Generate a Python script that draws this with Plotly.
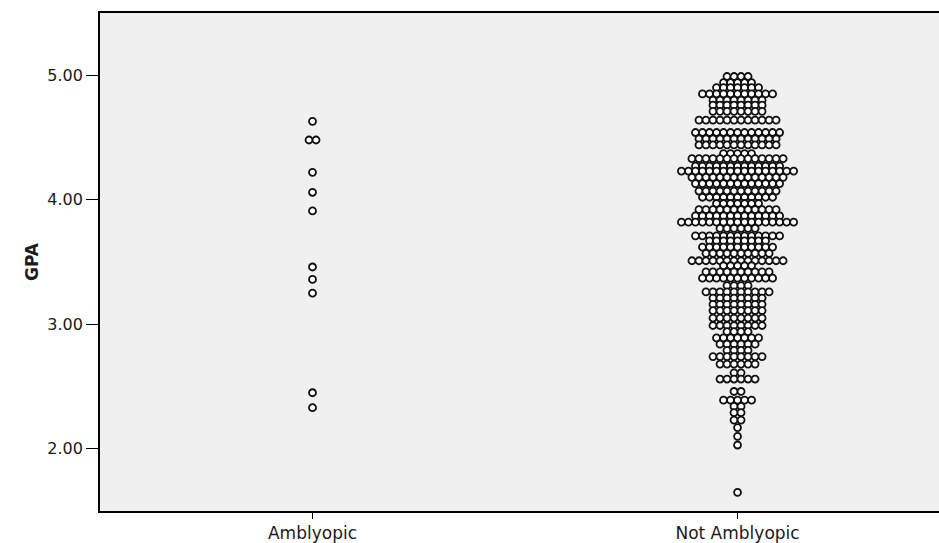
import plotly.graph_objects as go

# ---------------- data ----------------
categories = ["Amblyopic", "Not Amblyopic"]

amblyopic_gpa = [4.63, 4.48, 4.48, 4.22, 4.06, 3.91, 3.46, 3.36, 3.25, 2.45, 2.33]

not_amblyopic_levels = [
    4.99, 4.94, 4.90, 4.85, 4.80, 4.76, 4.71, 4.64, 4.54, 4.49, 4.44, 4.37,
    4.33, 4.27, 4.23, 4.18, 4.13, 4.07, 4.02, 3.97, 3.92, 3.87, 3.82, 3.77,
    3.71, 3.67, 3.62, 3.57, 3.51, 3.47, 3.42, 3.37, 3.31, 3.26, 3.21, 3.16,
    3.11, 3.05, 2.99, 2.94, 2.89, 2.84, 2.79, 2.74, 2.68, 2.61, 2.56, 2.46,
    2.39, 2.34, 2.29, 2.23, 2.17, 2.10, 2.03, 1.65,
]
not_amblyopic_counts = [
    4, 5, 7, 11, 8, 8, 8, 12, 13, 12, 12, 5,
    14, 13, 17, 14, 13, 12, 11, 7, 12, 13, 17, 6,
    13, 9, 11, 10, 14, 5, 10, 11, 4, 10, 8, 8,
    8, 8, 8, 4, 7, 6, 4, 8, 6, 2, 6, 2,
    5, 2, 2, 2, 1, 1, 1, 1,
]

y_ticks = [2, 3, 4, 5]

# ---------------- layout helpers ----------------
DOT_STEP = 0.0165  # horizontal spacing between stacked dots (x units)

not_amblyopic_gpa = [v for v, c in zip(not_amblyopic_levels, not_amblyopic_counts) for _ in range(c)]


def stack(values, center):
    groups = {}
    for v in values:
        groups.setdefault(v, 0)
        groups[v] += 1
    xs, ys = [], []
    for v, n in groups.items():
        for i in range(n):
            xs.append(center + (i - (n - 1) / 2) * DOT_STEP)
            ys.append(v)
    return xs, ys


x0, y0 = stack(amblyopic_gpa, 0)
x1, y1 = stack(not_amblyopic_gpa, 1)

marker = dict(symbol="circle", size=7, color="white",
              line=dict(color="#111111", width=1.8))

fig = go.Figure()
fig.add_trace(go.Scatter(x=x0, y=y0, mode="markers", marker=marker,
                         name=categories[0], showlegend=False, hoverinfo="y"))
fig.add_trace(go.Scatter(x=x1, y=y1, mode="markers", marker=marker,
                         name=categories[1], showlegend=False, hoverinfo="y"))

font_family = "DejaVu Sans, Arial, sans-serif"

fig.update_layout(
    width=939, height=543,
    margin=dict(l=100, r=0, t=13, b=30),
    paper_bgcolor="white",
    plot_bgcolor="#F0F0F0",
    font=dict(family=font_family, size=16, color="#1a1a1a"),
    showlegend=False,
)

fig.update_xaxes(
    range=[-0.5, 1.474],
    tickmode="array", tickvals=[0, 1], ticktext=categories,
    showgrid=False, zeroline=False,
    showline=True, linecolor="black", linewidth=1.8, mirror=True,
    ticks="outside", ticklen=6, tickcolor="black", tickwidth=1.2,
    tickfont=dict(family=font_family, size=17, color="#1a1a1a"),
)

fig.update_yaxes(
    range=[1.5, 5.5],
    tickmode="array", tickvals=y_ticks, tickformat=".2f",
    showgrid=False, zeroline=False,
    showline=True, linecolor="black", linewidth=1.8, mirror=False,
    ticks="outside", ticklen=12, tickcolor="black", tickwidth=1.2,
    tickfont=dict(family=font_family, size=16, color="#1a1a1a"),
    title=dict(text="<b>GPA</b>", standoff=4,
               font=dict(family=font_family, size=17, color="#1a1a1a")),
)

fig.write_html("out.html",
               config={"displayModeBar": False},
               post_script="document.body.style.margin='0';document.body.style.overflow='hidden';")
